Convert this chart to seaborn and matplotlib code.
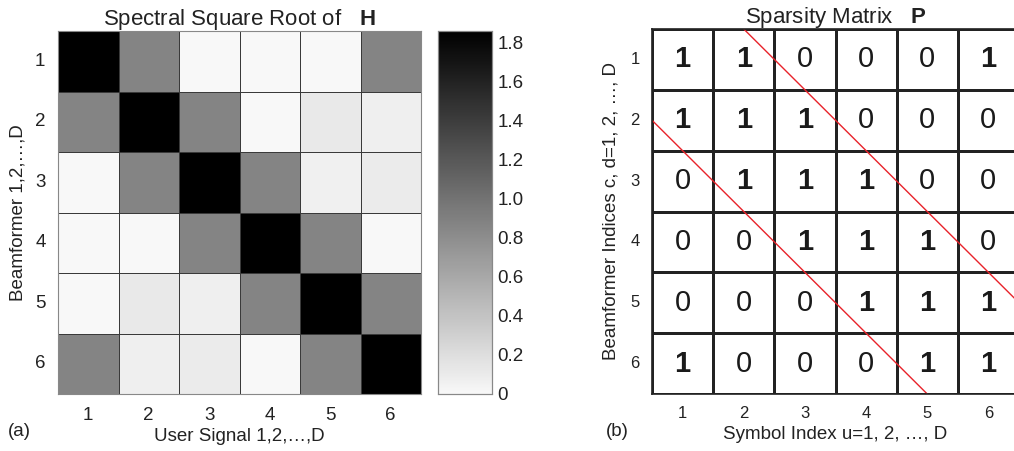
import numpy as np
import matplotlib
matplotlib.use("Agg")
import matplotlib.pyplot as plt
from matplotlib.colors import LinearSegmentedColormap, ListedColormap
import seaborn as sns

# Spectral square root of H (6 beamformers x 6 user signals)
spectral_rows = [
    [1.86, 0.87, 0.00, 0.00, 0.00, 0.87],
    [0.87, 1.86, 0.87, 0.00, 0.11, 0.07],
    [0.00, 0.87, 1.86, 0.87, 0.06, 0.10],
    [0.00, 0.00, 0.87, 1.86, 0.87, 0.00],
    [0.00, 0.11, 0.07, 0.87, 1.86, 0.87],
    [0.87, 0.07, 0.10, 0.00, 0.87, 1.86],
]
# Sparsity pattern P
sparsity_rows = [
    [1, 1, 0, 0, 0, 1],
    [1, 1, 1, 0, 0, 0],
    [0, 1, 1, 1, 0, 0],
    [0, 0, 1, 1, 1, 0],
    [0, 0, 0, 1, 1, 1],
    [1, 0, 0, 0, 1, 1],
]
index_labels = ["1", "2", "3", "4", "5", "6"]
cbar_ticks = [0, 0.2, 0.4, 0.6, 0.8, 1.0, 1.2, 1.4, 1.6, 1.8]
cbar_labels = ["0", "0.2", "0.4", "0.6", "0.8", "1.0", "1.2", "1.4", "1.6", "1.8"]
band_offsets = [-1.5, 1.5]  # diagonal band edges: column = row + offset
vmax = 1.86

sns.set_theme(style="white")
plt.rcParams["font.family"] = ["Liberation Sans", "DejaVu Sans"]
plt.rcParams["mathtext.fontset"] = "custom"
plt.rcParams["mathtext.rm"] = "Liberation Sans"
plt.rcParams["mathtext.bf"] = "Liberation Sans:bold"
txt = "#222222"

fig = plt.figure(figsize=(10.14, 4.51), dpi=100)
ax_h = fig.add_axes([58 / 1014, 1 - 394 / 451, 363 / 1014, 363 / 451])
cax = fig.add_axes([438 / 1014, 1 - 394 / 451, 54 / 1014, 363 / 451])
ax_p = fig.add_axes([652 / 1014, 1 - 394 / 451, 367 / 1014, 365 / 451])

# (a) heatmap of H
cmap_h = LinearSegmentedColormap.from_list("wk", ["#f8f8f8", "#000000"])
H = np.array(spectral_rows)
sns.heatmap(H, ax=ax_h, cbar_ax=cax, cmap=cmap_h, vmin=0, vmax=vmax,
            linewidths=0.45, linecolor="#3a3a3a",
            xticklabels=index_labels, yticklabels=index_labels)
ax_h.tick_params(length=0, labelsize=13.5, labelcolor=txt, pad=9)
ax_h.set_yticklabels(index_labels, rotation=0)
ax_h.set_xlabel("User Signal 1,2,\u2026,D", fontsize=13.5, color=txt, labelpad=3)
ax_h.set_ylabel("Beamformer 1,2,\u2026,D", fontsize=13.5, color=txt, labelpad=6)
ax_h.set_title(r"Spectral Square Root of   $\mathbf{H}$", fontsize=16,
               color=txt, pad=4)
for s in ax_h.spines.values():
    s.set_visible(True)
    s.set_color("#888888")
    s.set_linewidth(0.8)

cax.set_yticks(cbar_ticks)
cax.set_yticklabels(cbar_labels)
cax.tick_params(axis="y", direction="in", length=4, width=0.6, color="#555555",
                labelsize=13.5, labelcolor=txt, left=True, right=True, pad=4)
for s in cax.spines.values():
    s.set_visible(True)
    s.set_color("#888888")
    s.set_linewidth(0.8)

# (b) sparsity matrix P
P = np.array(sparsity_rows)
sns.heatmap(P, ax=ax_p, cmap=ListedColormap(["white"]), cbar=False,
            linewidths=1.0, linecolor="#222222",
            annot=True, fmt="d", annot_kws={"fontsize": 21, "color": "#1a1a1a"},
            xticklabels=index_labels, yticklabels=index_labels)
for t in ax_p.texts:
    if t.get_text() == "1":
        t.set_fontweight("bold")
ax_p.tick_params(length=0, labelsize=12, labelcolor=txt, pad=9)
ax_p.set_yticklabels(index_labels, rotation=0)
ax_p.set_xlabel("Symbol Index u=1, 2, \u2026, D", fontsize=13.5, color=txt, labelpad=3)
ax_p.set_ylabel("Beamformer Indices c, d=1, 2, \u2026, D", fontsize=13.5,
                color=txt, labelpad=8)
ax_p.set_title(r"Sparsity Matrix   $\mathbf{P}$", fontsize=16, color=txt, pad=4)
n = P.shape[0]
for off in band_offsets:
    rows = np.array([max(0.0, -off), min(float(n), n - off)])
    cols = rows + off
    ax_p.plot(cols, rows, color="#e8222a", lw=1.0)
ax_p.set_xlim(0, n)
ax_p.set_ylim(n, 0)
for s in ax_p.spines.values():
    s.set_visible(True)
    s.set_color("#222222")
    s.set_linewidth(1.2)

fig.text(8 / 1014, 1 - 432 / 451, "(a)", fontsize=13.5, color=txt, va="center")
fig.text(606 / 1014, 1 - 432 / 451, "(b)", fontsize=13.5, color=txt, va="center")

fig.savefig("out.png", dpi=100)
